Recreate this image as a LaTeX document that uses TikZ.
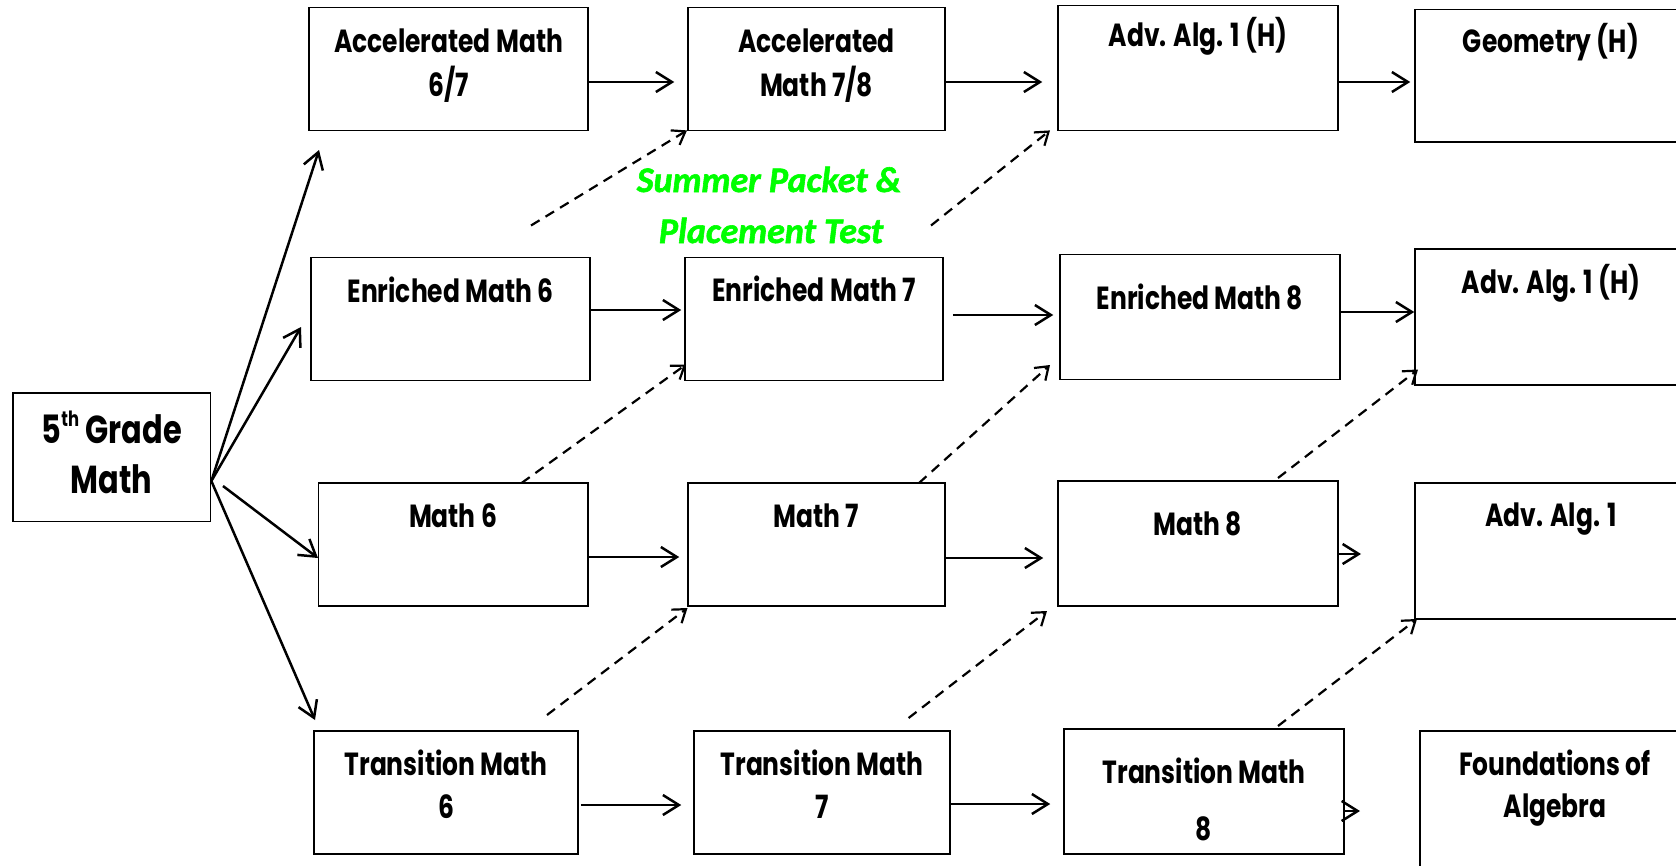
\documentclass[tikz,border=0pt]{standalone}
\usepackage{fontspec}
\newfontfamily\boxfont{Poppins}[FakeStretch=0.78]
\newfontfamily\grfont{Carlito}[BoldItalicFeatures={FakeBold=1.6}]
\usetikzlibrary{arrows.meta,fit}
\definecolor{brightgreen}{RGB}{0,255,0}
\tikzset{
  box/.style={draw=black, line width=1.5pt, inner sep=0pt},
  lbl/.style={font=\boxfont\bfseries\fontsize{32}{36}\selectfont, anchor=base, inner sep=0pt},
  biglbl/.style={font=\boxfont\bfseries\fontsize{39}{42}\selectfont, anchor=base, inner sep=0pt},
  grtxt/.style={font=\grfont\bfseries\itshape\fontsize{36}{40}\selectfont, text=brightgreen, anchor=base, inner sep=0pt},
  arr/.style={line width=2.5pt, -{Straight Barb[length=16pt,width=20pt]}},
  darr/.style={line width=2.2pt, dash pattern=on 10pt off 7pt, -{Straight Barb[length=12pt,width=17pt]}}
}
\begin{document}
\begin{tikzpicture}[x=1pt,y=-1pt]
\useasboundingbox (0,0) rectangle (1676,865);
\clip (0,0) rectangle (1676,865);
\fill[white] (0,0) rectangle (1676,865);
% boxes
\node[box, fit={(12.8,393) (210.6,521.6)}] (G5) {};
\node[box, fit={(309,7.5) (588,130.4)}] (A1) {};
\node[box, fit={(688,7.5) (945,130.4)}] (A2) {};
\node[box, fit={(1058,5.3) (1338,130.4)}] (A3) {};
\node[box, fit={(1415,9.6) (1700,142)}] (A4) {};
\node[box, fit={(311,257.6) (590,380.5)}] (E1) {};
\node[box, fit={(685,257.6) (943,380.5)}] (E2) {};
\node[box, fit={(1060,254.4) (1340,379.5)}] (E3) {};
\node[box, fit={(1415,249) (1700,384.8)}] (E4) {};
\node[box, fit={(318.5,483) (588,606)}] (M1) {};
\node[box, fit={(688,483) (945,606)}] (M2) {};
\node[box, fit={(1058,481) (1338,606)}] (M3) {};
\node[box, fit={(1415,483) (1700,619)}] (M4) {};
\node[box, fit={(314,731) (578,854)}] (T1) {};
\node[box, fit={(694,731) (950,854)}] (T2) {};
\node[box, fit={(1064,729) (1344,854)}] (T3) {};
\node[box, fit={(1420,731) (1700,880)}] (T4) {};
% labels
\node[biglbl] (G5a) at (111.7,443) {5\raisebox{0.42em}{\fontsize{21}{21}\selectfont th} Grade};
\node[biglbl] (G5b) at (111.7,493) {Math};
\node[lbl] (A1a) at (448.5,52) {Accelerated Math};
\node[lbl] (A1b) at (448.5,96) {6/7};
\node[lbl] (A2a) at (816.5,52) {Accelerated};
\node[lbl] (A2b) at (816.5,96) {Math 7/8};
\node[lbl] (A3a) at (1198,46) {Adv. Alg. 1 (H)};
\node[lbl] (A4a) at (1551,52) {Geometry (H)};
\node[lbl] (E1a) at (450.5,302) {Enriched Math 6};
\node[lbl] (E2a) at (814,301) {Enriched Math 7};
\node[lbl] (E3a) at (1200,309) {Enriched Math 8};
\node[lbl] (E4a) at (1551,293) {Adv. Alg. 1 (H)};
\node[lbl] (M1a) at (453,527) {Math 6};
\node[lbl] (M2a) at (816.5,527) {Math 7};
\node[lbl] (M3a) at (1198,535) {Math 8};
\node[lbl] (M4a) at (1551,526) {Adv. Alg. 1};
\node[lbl] (T1a) at (446,775) {Transition Math};
\node[lbl] (T1b) at (446,818) {6};
\node[lbl] (T2a) at (822,775) {Transition Math};
\node[lbl] (T2b) at (822,818) {7};
\node[lbl] (T3a) at (1204,783) {Transition Math};
\node[lbl] (T3b) at (1204,840) {8};
\node[lbl] (T4a) at (1555,775) {Foundations of};
\node[lbl] (T4b) at (1555,817) {Algebra};
\node[grtxt] (SP1) at (769,192) {Summer Packet \&};
\node[grtxt] (SP2) at (771,243) {Placement Test};
% coordinates
\coordinate (G5o) at (G5.east |- 0,481);
\coordinate (G5m) at (223,486);
\coordinate (A1in) at (319,150);
\coordinate (E1in) at (301,327);
\coordinate (M1in) at (318,558);
\coordinate (T1in) at (315,720);
\coordinate (Ds1) at (531,225.5);
\coordinate (Ds2) at (931,225.5);
\coordinate (A2in) at (687,130.4);
\coordinate (A3in) at (1050,130.4);
\coordinate (E2in) at (686,364.5);
\coordinate (E3in) at (1050,365);
\coordinate (E4in) at (1418,369.5);
\coordinate (M2in) at (687.5,608);
\coordinate (M3in) at (1047,611);
\coordinate (M4in) at (1417,619);
\coordinate (Dm1) at (521.6,483);
\coordinate (Dm2) at (919,483);
\coordinate (Dm3) at (1278,478);
\coordinate (Dt1) at (547,715);
\coordinate (Dt2) at (908.6,718);
\coordinate (Dt3) at (1278,726);
\coordinate (M3out) at (1361,554);
\coordinate (T3out) at (1360,811);
% from 5th grade
\draw[arr] (G5o) -- (A1in);
\draw[arr] (G5o) -- (E1in);
\draw[arr] (G5m) -- (M1in);
\draw[arr] (G5o) -- (T1in);
% horizontal arrows
\draw[arr, shorten >=13pt] (A1.east |- 0,82) -- (A2.west |- 0,82);
\draw[arr, shorten >=15pt] (A2.east |- 0,82) -- (A3.west |- 0,82);
\draw[arr, shorten >=4pt] (A3.east |- 0,82) -- (A4.west |- 0,82);
\draw[arr, shorten >=3pt] (E1.east |- 0,310) -- (E2.west |- 0,310);
\draw[arr, shorten <=9pt, shorten >=6pt] (E2.east |- 0,315) -- (E3.west |- 0,315);
\draw[arr] (E3.east |- 0,312) -- (E4.west |- 0,312);
\draw[arr, shorten >=8pt] (M1.east |- 0,557) -- (M2.west |- 0,557);
\draw[arr, shorten >=14pt] (M2.east |- 0,558) -- (M3.west |- 0,558);
\draw[arr] (M3.east |- 0,554) -- (M3out);
\draw[arr, shorten <=2pt, shorten >=12pt] (T1.east |- 0,805) -- (T2.west |- 0,805);
\draw[arr, shorten >=13pt] (T2.east |- 0,804) -- (T3.west |- 0,804);
\draw[arr] (T3.east |- 0,811) -- (T3out);
% dashed arrows
\draw[darr] (Ds1) -- (A2in);
\draw[darr] (Ds2) -- (A3in);
\draw[darr] (Dm1) -- (E2in);
\draw[darr] (Dm2) -- (E3in);
\draw[darr] (Dm3) -- (E4in);
\draw[darr] (Dt1) -- (M2in);
\draw[darr] (Dt2) -- (M3in);
\draw[darr] (Dt3) -- (M4in);
\end{tikzpicture}
\end{document}
